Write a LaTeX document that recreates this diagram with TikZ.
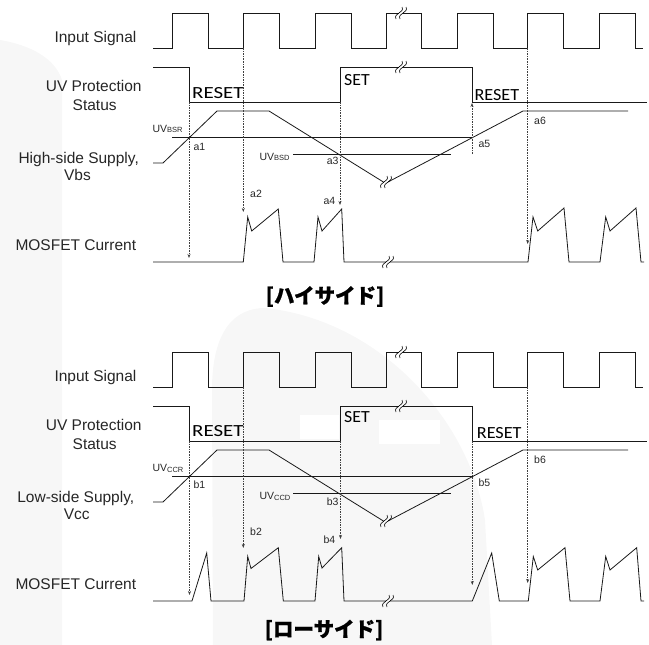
\documentclass[tikz,border=0pt]{standalone}
\usepackage{fontspec}
\setmainfont{Liberation Sans}
\newfontfamily\calfont{Carlito}
\newfontfamily\jpfont{Noto Sans CJK JP}[BoldFeatures={FakeBold=1}]
\usetikzlibrary{arrows.meta}
\tikzset{
  wave/.style={line width=0.8pt, black!90, line join=miter},
  thr/.style={line width=0.8pt, black!90},
  guide/.style={black!75, line width=0.6pt, dash pattern=on 1.6pt off 1pt, -{Stealth[length=4pt,width=3pt]}},
  lbl/.style={font=\fontsize{15.5}{17}\selectfont, anchor=base, inner sep=0pt, text=black!85},
  tag/.style={font=\fontsize{10.5}{12}\selectfont, anchor=base west, inner sep=0pt, text=black!85},
  st/.style={font=\calfont\fontsize{17}{19}\selectfont, anchor=base west, inner sep=0pt},
  ttl/.style={font=\jpfont\bfseries\fontsize{20.5}{24}\selectfont, inner sep=0pt},
  brk/.pic={
    \fill[white] (-0.5,-2.2) rectangle (3.5,2.2);
    \draw[line width=0.6pt] (-3,6) .. controls (-6,0) and (6,0) .. (3,-6);
    \draw[line width=0.6pt] (1,6) .. controls (-2,0) and (10,0) .. (7,-6);
  }
}
\newcommand\uvsub[2]{#1{\fontsize{7.5}{8}\selectfont\raisebox{-0.6pt}{#2}}}
\begin{document}
\begin{tikzpicture}[x=1pt,y=-1pt]
\useasboundingbox (0,0) rectangle (649,645);
% watermark
\fill[black!3] (0,40) .. controls (30,45) and (55,58) .. (62,80) -- (62,645) -- (0,645) -- cycle;
\fill[black!3] (213,645) -- (212,390) .. controls (212,330) and (235,308) .. (265,308)
   .. controls (380,320) and (470,420) .. (485,520) -- (492,645) -- cycle;
\fill[white] (300,415) rectangle (339,439);
\fill[white] (379,420) rectangle (440,444);

% ================= TOP (high side) =================
\node[lbl] (tIn) at (95.5,42.7) {Input Signal};
\node[lbl] (tUV1) at (93.7,91.7) {UV Protection};
\node[lbl] (tUV2) at (94.7,110) {Status};
\node[lbl] (tSup1) at (78.7,163) {High-side Supply,};
\node[lbl] (tSup2) at (77.5,180) {Vbs};
\node[lbl] (tMos) at (75.8,250.7) {MOSFET Current};

\draw[wave] (153,48) -- (172,48) -- (172,13) -- (208,13) -- (208,48) -- (243.3,48) -- (243.3,13) -- (279,13) -- (279,48)
  -- (315,48) -- (315,13) -- (351,13) -- (351,48) -- (386,48) -- (386,13) -- (421,13) -- (421,48)
  -- (457,48) -- (457,13) -- (493,13) -- (493,48) -- (527.7,48) -- (527.7,13) -- (563,13) -- (563,48)
  -- (599,48) -- (599,13) -- (635,13) -- (635,48) -- (643,48);
\pic at (399,13) {brk};

\draw[wave] (153,67) -- (189,67) -- (189,102) -- (340,102) -- (340,67) -- (472,67) -- (472,102) -- (647,102);
\pic at (399,67) {brk};

\draw[thr] (172,137) -- (472,137);
\draw[thr] (293,154) -- (451,154);
\draw[wave] (153,163) -- (163,163) -- (217,111) -- (269,111) -- (385,183);
\draw[wave] (388,182) -- (523,111) -- (628,111);
\pic at (384,182) {brk};

\draw[wave] (153,262) -- (243.3,262) -- (247.7,217) -- (251.7,231) -- (278.3,209) -- (283,262) -- (314,262)
  -- (318,217) -- (322,231) -- (341.7,209) -- (344,262) -- (528,262) -- (533,217) -- (537.7,231) -- (564,208)
  -- (569,262) -- (600,262) -- (605.7,217) -- (610,231) -- (636,208) -- (641,262) -- (644,262);
\pic at (386,262) {brk};

\node[st] (tR1) at (192,98.3) {\scalebox{1.23}[1]{RESET}};
\node[st] (tS) at (344,85) {\scalebox{1.05}[1]{SET}};
\node[st] (tR2) at (474.3,100.7) {\scalebox{1.07}[1]{RESET}};

\node[tag] (tBSR) at (152.3,132.3) {\uvsub{UV}{BSR}};
\node[tag] (tBSD) at (259.3,160) {\uvsub{UV}{BSD}};
\node[tag] (ta1) at (193.3,150) {a1};
\node[tag] (ta2) at (250,197.3) {a2};
\node[tag] (ta3) at (326.7,164) {a3};
\node[tag] (ta4) at (323.3,204) {a4};
\node[tag] (ta5) at (478.3,147.3) {a5};
\node[tag] (ta6) at (534,124) {a6};

\coordinate (ga1s) at (189,102); \coordinate (ga1e) at (189,258);
\coordinate (ga2s) at (243.3,48); \coordinate (ga2e) at (243.3,212);
\coordinate (ga4s) at (340,102); \coordinate (ga4e) at (340,205);
\coordinate (ga5s) at (472,154); \coordinate (ga5e) at (472,103);
\coordinate (ga6s) at (527.7,48); \coordinate (ga6e) at (527.7,244);
\draw[guide] (ga1s) -- (ga1e);
\draw[guide] (ga2s) -- (ga2e);
\draw[guide] (ga4s) -- (ga4e);
\draw[guide] (ga5s) -- (ga5e);
\draw[guide] (ga6s) -- (ga6e);

\node[ttl] (tTitle) at (325,296.5) {[ハイサイド]};

% ================= BOTTOM (low side) =================
\begin{scope}[yshift=-339pt]
\node[lbl] (bIn) at (95.5,42.7) {Input Signal};
\node[lbl] (bUV1) at (93.7,91.7) {UV Protection};
\node[lbl] (bUV2) at (94.7,110) {Status};
\node[lbl] (bSup1) at (75.8,163) {Low-side Supply,};
\node[lbl] (bSup2) at (76.7,180) {Vcc};
\node[lbl] (bMos) at (75.8,250.7) {MOSFET Current};

\draw[wave] (153,48) -- (172,48) -- (172,13) -- (208,13) -- (208,48) -- (243.3,48) -- (243.3,13) -- (279,13) -- (279,48)
  -- (315,48) -- (315,13) -- (351,13) -- (351,48) -- (386,48) -- (386,13) -- (421,13) -- (421,48)
  -- (457,48) -- (457,13) -- (493,13) -- (493,48) -- (527.7,48) -- (527.7,13) -- (563,13) -- (563,48)
  -- (599,48) -- (599,13) -- (635,13) -- (635,48) -- (643,48);
\pic at (399,13) {brk};

\draw[wave] (153,67) -- (189.5,67) -- (189.5,102) -- (340.5,102) -- (340.5,67) -- (472.3,67) -- (472.3,102) -- (647,102);
\pic at (399,67) {brk};

\draw[thr] (172,137.5) -- (472,137.5);
\draw[thr] (293,154) -- (451,154);
\draw[wave] (153,163) -- (163,163) -- (217,111) -- (269,111) -- (385,183);
\draw[wave] (388,182) -- (523,111) -- (628,111);
\pic at (384,182) {brk};

\draw[wave] (153,262) -- (192,262) -- (206.7,214) -- (211,262) -- (244,262) -- (247.7,217.5) -- (251,229.5)
  -- (278.3,208.7) -- (283.3,262) -- (315,262) -- (318.7,217.5) -- (322,229) -- (341.7,208.7) -- (344,262)
  -- (472.3,262) -- (491.7,214) -- (499.3,262) -- (528.3,262) -- (533.3,217.5) -- (537.7,231) -- (565,208.7)
  -- (570,262) -- (600,262) -- (605.7,217.5) -- (610,231) -- (636.7,208.7) -- (641,262) -- (644,262);
\pic at (386,262) {brk};

\node[st] (bR1) at (192,97.5) {\scalebox{1.23}[1]{RESET}};
\node[st] (bS) at (344,83) {\scalebox{1.05}[1]{SET}};
\node[st] (bR2) at (476.7,99) {\scalebox{1.07}[1]{RESET}};

\node[tag] (bCCR) at (152.3,132.5) {\uvsub{UV}{CCR}};
\node[tag] (bCCD) at (259.3,160.5) {\uvsub{UV}{CCD}};
\node[tag] (bb1) at (193.3,149.5) {b1};
\node[tag] (bb2) at (250,196) {b2};
\node[tag] (bb3) at (326.7,166) {b3};
\node[tag] (bb4) at (323.3,204) {b4};
\node[tag] (bb5) at (478.3,147) {b5};
\node[tag] (bb6) at (534,124.3) {b6};

\coordinate (gb1s) at (189.5,102); \coordinate (gb1e) at (189.5,256);
\coordinate (gb2s) at (243.3,48); \coordinate (gb2e) at (243.3,209);
\coordinate (gb4s) at (340.5,102); \coordinate (gb4e) at (340.5,200);
\coordinate (gb5s) at (472.3,102); \coordinate (gb5e) at (472.3,246);
\coordinate (gb6s) at (527.7,48); \coordinate (gb6e) at (527.7,244);
\draw[guide] (gb1s) -- (gb1e);
\draw[guide] (gb2s) -- (gb2e);
\draw[guide] (gb4s) -- (gb4e);
\draw[guide] (gb5s) -- (gb5e);
\draw[guide] (gb6s) -- (gb6e);
\end{scope}

\node[ttl] (bTitle) at (324,630) {[ローサイド]};
\end{tikzpicture}
\end{document}
